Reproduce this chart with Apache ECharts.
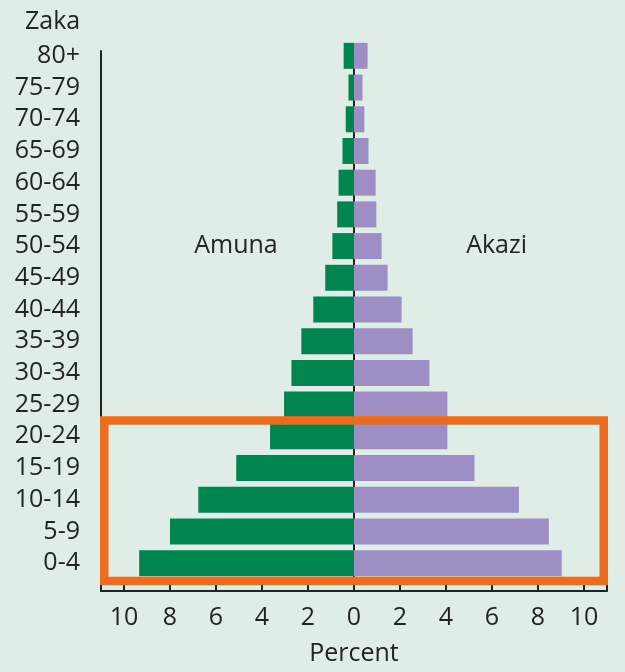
<!DOCTYPE html>
<html>
<head>
<meta charset="utf-8">
<script src="https://cdn.jsdelivr.net/npm/echarts@6/dist/echarts.min.js"></script>
<style>
html,body{margin:0;padding:0;background:#dfede6;}
#chart{width:625px;height:672px;}
</style>
</head>
<body>
<div id="chart"></div>
<script>
// Age groups, bottom to top
var ages = ['0-4','5-9','10-14','15-19','20-24','25-29','30-34','35-39','40-44','45-49','50-54','55-59','60-64','65-69','70-74','75-79','80+'];
// Percent of population, men (Amuna) and women (Akazi)
var amuna = [9.34, 8.00, 6.77, 5.12, 3.65, 3.04, 2.72, 2.29, 1.77, 1.25, 0.94, 0.73, 0.67, 0.50, 0.36, 0.24, 0.45];
var akazi = [9.03, 8.47, 7.17, 5.24, 4.06, 4.06, 3.28, 2.55, 2.07, 1.46, 1.20, 0.97, 0.94, 0.63, 0.45, 0.37, 0.59];
// Tick labels on the percent axis
var tickValues = [-10, -8, -6, -4, -2, 0, 2, 4, 6, 8, 10];
var tickMarks = [-11, -10, -8, -6, -4, -2, 0, 2, 4, 6, 8, 10, 11];
// Highlighted age range (boxed)
var boxedAges = ['0-4', '20-24'];

var FONT = '"Open Sans", sans-serif';
var FS = 25;
var TXT = '#232323';
var chart = echarts.init(document.getElementById('chart'), null, {renderer: 'canvas'});

var option = {
  backgroundColor: '#dfede6',
  animation: false,
  title: {
    text: 'Zaka', left: 20, top: 4,
    textStyle: {fontFamily: FONT, fontSize: FS, fontWeight: 'normal', color: TXT}
  },
  grid: [
    {left: 101, right: 18, top: 40, height: 539},
    {left: 101, right: 18, top: 51, bottom: 81}
  ],
  xAxis: [
    {gridIndex: 0, type: 'value', min: -11, max: 11, show: false},
    {gridIndex: 1, type: 'value', min: -11, max: 11,
     axisLine: {show: true, onZero: false, lineStyle: {color: '#222', width: 2}},
     axisTick: {show: true, inside: true, length: 6, customValues: tickMarks, lineStyle: {color: '#222', width: 2}},
     axisLabel: {customValues: tickValues, margin: 14, fontFamily: FONT, fontSize: FS, color: TXT,
                 formatter: function (v) { return String(Math.abs(v)); }},
     splitLine: {show: false},
     name: 'Percent', nameLocation: 'middle', nameGap: 50,
     nameTextStyle: {fontFamily: FONT, fontSize: FS, color: TXT}}
  ],
  yAxis: [
    {gridIndex: 0, type: 'category', data: ages,
     axisLine: {show: false}, axisTick: {show: false},
     axisLabel: {interval: 0, hideOverlap: false, margin: 21, padding: [8, 0, 0, 0],
                 fontFamily: FONT, fontSize: FS, color: TXT}},
    {gridIndex: 1, type: 'category', data: ages, position: 'left',
     axisLine: {show: true, onZero: false, lineStyle: {color: '#222', width: 2}},
     axisTick: {show: false}, axisLabel: {show: false}},
    {gridIndex: 1, type: 'category', data: ages, position: 'right',
     axisLine: {show: true, onZero: true, lineStyle: {color: '#222', width: 2}},
     axisTick: {show: false}, axisLabel: {show: false}}
  ],
  series: [
    {
      name: 'Amuna', type: 'bar', stack: 'pop', xAxisIndex: 0, yAxisIndex: 0,
      barWidth: 26, itemStyle: {color: '#00854f'},
      data: amuna.map(function (v) { return -v; }),
      markPoint: {
        symbol: 'circle', symbolSize: 0,
        label: {show: true, formatter: 'Amuna', fontFamily: FONT, fontSize: FS, color: TXT},
        data: [{coord: [-5.13, '50-54']}]
      }
    },
    {
      name: 'Akazi', type: 'bar', stack: 'pop', xAxisIndex: 0, yAxisIndex: 0,
      barWidth: 26, itemStyle: {color: '#9d8fc4'},
      data: akazi,
      markPoint: {
        symbol: 'circle', symbolSize: 0,
        label: {show: true, formatter: 'Akazi', fontFamily: FONT, fontSize: FS, color: TXT},
        data: [{coord: [6.2, '50-54']}]
      }
    }
  ]
};
chart.setOption(option);

// Orange box around the highlighted age range, placed from the axes' own scale
var lo = chart.convertToPixel({gridIndex: 0}, [-11, boxedAges[0]]);
var hi = chart.convertToPixel({gridIndex: 0}, [11, boxedAges[1]]);
var band = 539 / ages.length;
var lw = 8.5;
chart.setOption({
  graphic: [{
    type: 'rect', z: 100,
    shape: {
      x: lo[0] + lw / 2 - 1,
      y: hi[1] - band / 2,
      width: (hi[0] - lo[0]) - lw + 2,
      height: (lo[1] - hi[1]) + band + 2
    },
    style: {fill: 'none', stroke: '#ea6c1f', lineWidth: lw}
  }]
});
</script>
</body>
</html>
